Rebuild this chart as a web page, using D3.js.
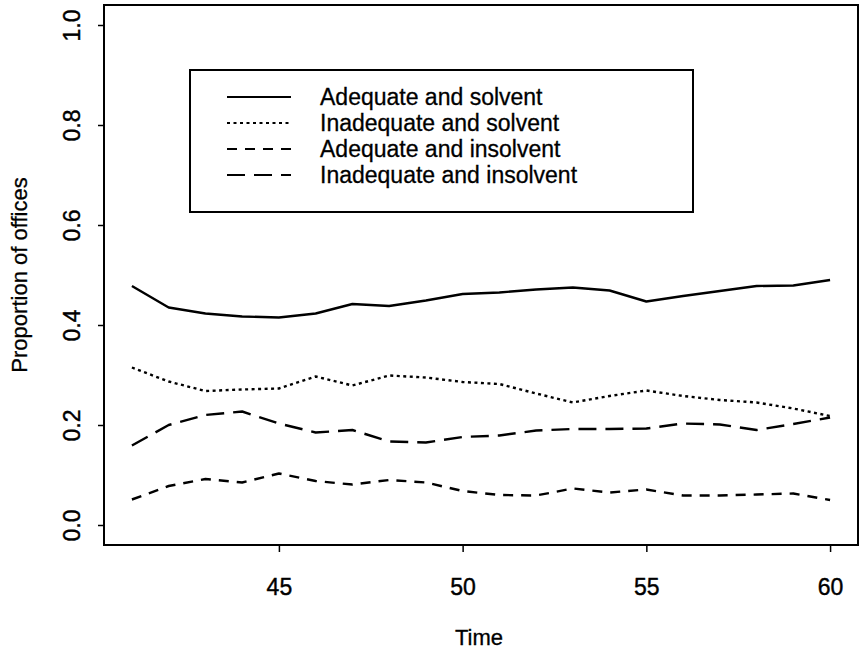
<!DOCTYPE html>
<html>
<head>
<meta charset="utf-8">
<script src="https://cdn.jsdelivr.net/npm/d3@7"></script>
<style>
  body { margin: 0; background: #fff; }
  svg text { font-family: "Liberation Sans", Arial, sans-serif; fill: #000; }
</style>
</head>
<body>
<div id="chart"></div>
<script>
// values
var years = [41, 42, 43, 44, 45, 46, 47, 48, 49, 50, 51, 52, 53, 54, 55, 56, 57, 58, 59, 60];
var adequateSolvent   = [0.478, 0.435, 0.423, 0.417, 0.415, 0.423, 0.442, 0.438, 0.449, 0.462, 0.465, 0.471, 0.475, 0.469, 0.447, 0.458, 0.468, 0.478, 0.479, 0.490];
var inadequateSolvent = [0.315, 0.287, 0.268, 0.271, 0.273, 0.297, 0.279, 0.299, 0.295, 0.286, 0.282, 0.263, 0.245, 0.258, 0.269, 0.258, 0.250, 0.245, 0.233, 0.218];
var adequateInsolvent = [0.051, 0.078, 0.092, 0.085, 0.103, 0.088, 0.081, 0.090, 0.085, 0.068, 0.060, 0.059, 0.073, 0.065, 0.071, 0.059, 0.059, 0.061, 0.063, 0.050];
var inadequateInsolvent = [0.159, 0.200, 0.220, 0.227, 0.203, 0.185, 0.190, 0.167, 0.165, 0.176, 0.179, 0.189, 0.192, 0.192, 0.193, 0.203, 0.201, 0.190, 0.202, 0.215];
var seriesNames = ["Adequate and solvent", "Inadequate and solvent", "Adequate and insolvent", "Inadequate and insolvent"];
var xTicks = [45, 50, 55, 60];
var yTicks = [0, 0.2, 0.4, 0.6, 0.8, 1.0];

var width = 867, height = 650;
var plot = {left: 104, right: 858, top: 5, bottom: 545};
var dashes = [null, "3,3.5", "10,8", "18,9"];

var svg = d3.select("#chart").append("svg")
    .attr("width", width)
    .attr("height", height);

// R style: 4% padding on each side of the data range
var x = d3.scaleLinear().domain([40.24, 60.76]).range([plot.left, plot.right]);
var y = d3.scaleLinear().domain([-0.04, 1.04]).range([plot.bottom, plot.top]);

var allSeries = [adequateSolvent, inadequateSolvent, adequateInsolvent, inadequateInsolvent];

var line = d3.line()
    .x(function(d) { return x(d[0]); })
    .y(function(d) { return y(d[1]); });

allSeries.forEach(function(vals, i) {
    var pts = years.map(function(yr, j) { return [yr, vals[j]]; });
    svg.append("path")
        .datum(pts)
        .attr("d", line)
        .attr("fill", "none")
        .attr("stroke", "#000")
        .attr("stroke-width", 2.4)
        .attr("stroke-linejoin", "round")
        .attr("stroke-dasharray", dashes[i]);
});

// box
svg.append("rect")
    .attr("x", plot.left).attr("y", plot.top)
    .attr("width", plot.right - plot.left)
    .attr("height", plot.bottom - plot.top)
    .attr("fill", "none")
    .attr("stroke", "#000")
    .attr("stroke-width", 2);

// x axis
var xAxis = d3.axisBottom(x).tickValues(xTicks).tickSize(7).tickPadding(43)
    .tickFormat(d3.format("d"));
var gx = svg.append("g")
    .attr("transform", "translate(0," + plot.bottom + ")")
    .call(xAxis);
gx.select(".domain").remove();
gx.selectAll("line").attr("stroke-width", 1.5);
gx.selectAll("text")
    .style("font-size", "23px")
    .style("stroke", "#000").style("stroke-width", 0.4)
    .attr("dy", "0");

// y axis
var yAxis = d3.axisLeft(y).tickValues(yTicks).tickSize(6).tickPadding(0)
    .tickFormat(d3.format(".1f"));
var gy = svg.append("g")
    .attr("transform", "translate(" + plot.left + ",0)")
    .call(yAxis);
gy.select(".domain").remove();
gy.selectAll("line").attr("stroke-width", 1.5);
gy.selectAll("text")
    .style("font-size", "23px")
    .style("stroke", "#000").style("stroke-width", 0.4)
    .attr("x", 0).attr("dy", 0)
    .attr("text-anchor", "middle")
    .attr("transform", "translate(-24,0) rotate(-90)");

// axis titles
svg.append("text")
    .text("Time")
    .attr("x", (plot.left + plot.right) / 2 - 2)
    .attr("y", 645)
    .attr("text-anchor", "middle")
    .style("font-size", "22px")
    .style("stroke", "#000").style("stroke-width", 0.3);

svg.append("text")
    .text("Proportion of offices")
    .attr("transform", "translate(27," + (plot.top + plot.bottom) / 2 + ") rotate(-90)")
    .attr("text-anchor", "middle")
    .style("font-size", "22px")
    .style("stroke", "#000").style("stroke-width", 0.3);

// legend
var legend = svg.append("g");
legend.append("rect")
    .attr("x", 190).attr("y", 70)
    .attr("width", 503).attr("height", 142)
    .attr("fill", "#fff")
    .attr("stroke", "#000")
    .attr("stroke-width", 2);

var rowY = d3.scalePoint().domain(seriesNames).range([97, 175]);
seriesNames.forEach(function(name, i) {
    legend.append("line")
        .attr("x1", 227).attr("x2", 291)
        .attr("y1", rowY(name)).attr("y2", rowY(name))
        .attr("stroke", "#000")
        .attr("stroke-width", 2)
        .attr("stroke-dasharray", dashes[i]);
    legend.append("text")
        .text(name)
        .attr("x", 320)
        .attr("y", rowY(name) + 8)
        .style("font-size", "23px")
        .style("stroke", "#000").style("stroke-width", 0.3);
});
</script>
</body>
</html>
